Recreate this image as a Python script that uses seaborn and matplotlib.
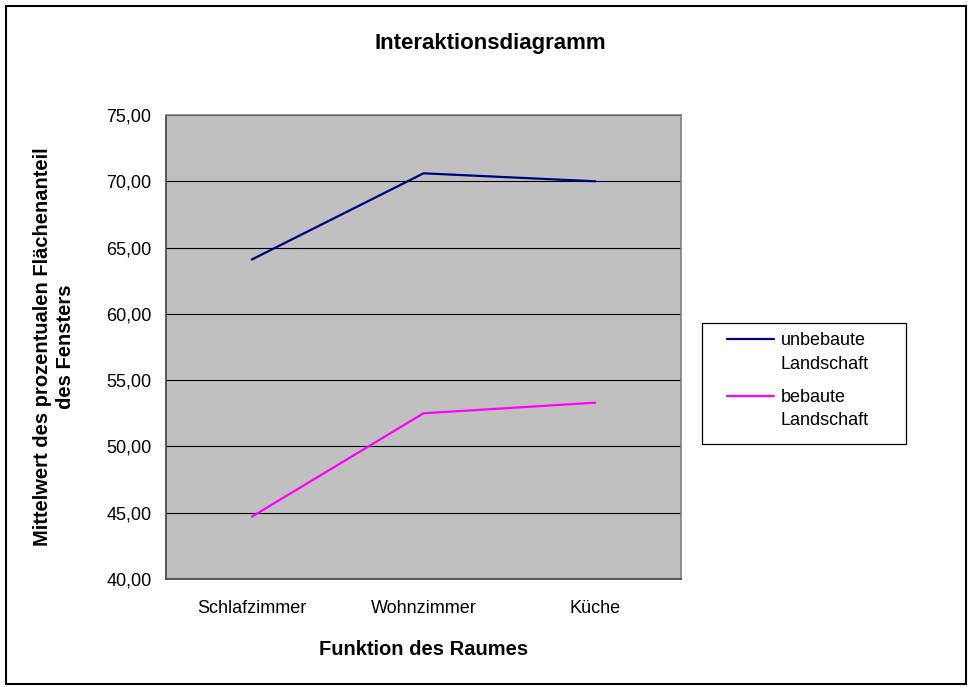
"""
Interaktionsdiagramm: Mittelwert des Flaechenanteils des Fensters je Raumfunktion
"""

import pandas as pd
import matplotlib
matplotlib.use("Agg")
import matplotlib.pyplot as plt
import matplotlib.ticker as mticker
from matplotlib.patches import Rectangle
from matplotlib.legend_handler import HandlerLine2D
import seaborn as sns

# Daten
raeume = ["Schlafzimmer", "Wohnzimmer", "Küche"]
unbebaut = [64.1, 70.6, 70.0]
bebaut = [44.7, 52.5, 53.3]
serien = ["unbebaute\nLandschaft", "bebaute\nLandschaft"]
farben = ["#000080", "#FF00FF"]
y_ticks = [40, 45, 50, 55, 60, 65, 70, 75]

df = pd.DataFrame({
    "Raum": raeume * 2,
    "Wert": unbebaut + bebaut,
    "Landschaft": [serien[0]] * len(raeume) + [serien[1]] * len(raeume),
})

sns.set_style("white")
plt.rcParams["font.family"] = ["Liberation Sans", "DejaVu Sans"]
for key in ["text.color", "axes.labelcolor", "xtick.color", "ytick.color"]:
    plt.rcParams[key] = "black"

LEG_FS = 13
LEG_LS = 1.5


class ErsteZeile(HandlerLine2D):
    """Legendenlinie auf Hoehe der ersten Textzeile, etwas eingerueckt, wie in Excel."""

    def create_artists(self, legend, orig_handle, xdescent, ydescent, width, height, fontsize, trans):
        artists = super().create_artists(legend, orig_handle, xdescent, ydescent,
                                         width, height, fontsize, trans)
        for a in artists:
            a.set_ydata([y + fontsize * LEG_LS / 2 for y in a.get_ydata()])
            xs = list(a.get_xdata())
            a.set_xdata([xs[0] + 11.5] + xs[1:])
        return artists


fig = plt.figure(figsize=(9.72, 6.87), dpi=100)
ax = fig.add_axes([166 / 972, 1 - 579 / 687, 515 / 972, 464 / 687])
ax.set_facecolor("#C0C0C0")

sns.lineplot(data=df, x="Raum", y="Wert", hue="Landschaft", palette=farben,
             linewidth=1.6, ax=ax, sort=False, legend=True)

# Achsen
ax.set_xlim(-0.5, len(raeume) - 0.5)
ax.set_ylim(y_ticks[0], y_ticks[-1])
ax.set_yticks(y_ticks)
ax.yaxis.set_major_formatter(mticker.FuncFormatter(lambda v, p: f"{v:.2f}".replace(".", ",")))
ax.grid(axis="y", color="black", linewidth=0.8)
ax.set_axisbelow(True)

ax.set_xticks(range(len(raeume)))
ax.set_xticklabels(raeume)
ax.set_xticks([i - 0.5 for i in range(len(raeume) + 1)], minor=True)
ax.tick_params(axis="x", which="major", length=0, pad=15, labelsize=13)
ax.tick_params(axis="x", which="minor", length=4.5, width=1, color="#404040", direction="out")
ax.tick_params(axis="y", length=4.5, width=1, color="#404040", direction="out", labelsize=13, pad=6)

for side in ["top", "right"]:
    ax.spines[side].set_color("#808080")
    ax.spines[side].set_linewidth(1.2)
for side in ["left", "bottom"]:
    ax.spines[side].set_color("#404040")
    ax.spines[side].set_linewidth(1.2)

ax.set_xlabel("Funktion des Raumes", fontsize=14.5, fontweight="bold", labelpad=17)
ax.set_ylabel("Mittelwert des prozentualen Flächenanteil\ndes Fensters",
              fontsize=14.5, fontweight="bold", labelpad=22, linespacing=1.3)

fig.text(0.504, 1 - 44 / 687, "Interaktionsdiagramm", ha="center", va="center",
         fontsize=16, fontweight="bold")

# Legende (Rahmen separat, damit er die Excel-Groesse bekommt)
handles, labels = ax.get_legend_handles_labels()
ax.get_legend().remove()
leg = fig.legend(handles, labels, loc="upper left", bbox_to_anchor=(702 / 972, 1 - 323 / 687),
                 bbox_transform=fig.transFigure, borderaxespad=0, frameon=False,
                 fontsize=LEG_FS, handlelength=3.5, handletextpad=0.35,
                 borderpad=0.5, labelspacing=0.9,
                 handler_map={h: ErsteZeile() for h in handles})
for line in leg.get_lines():
    line.set_linewidth(1.6)
for t in leg.get_texts():
    t.set_linespacing(LEG_LS)

fig.patches.append(Rectangle((702 / 972, 1 - 444 / 687), 204 / 972, 121 / 687,
                             transform=fig.transFigure, fill=False,
                             edgecolor="black", linewidth=0.9))

# Rahmen um das Diagramm
fig.patches.append(Rectangle((6 / 972, 3 / 687), 960 / 972, 678 / 687, transform=fig.transFigure,
                             fill=False, edgecolor="black", linewidth=1.5))

fig.savefig("out.png", dpi=100)
